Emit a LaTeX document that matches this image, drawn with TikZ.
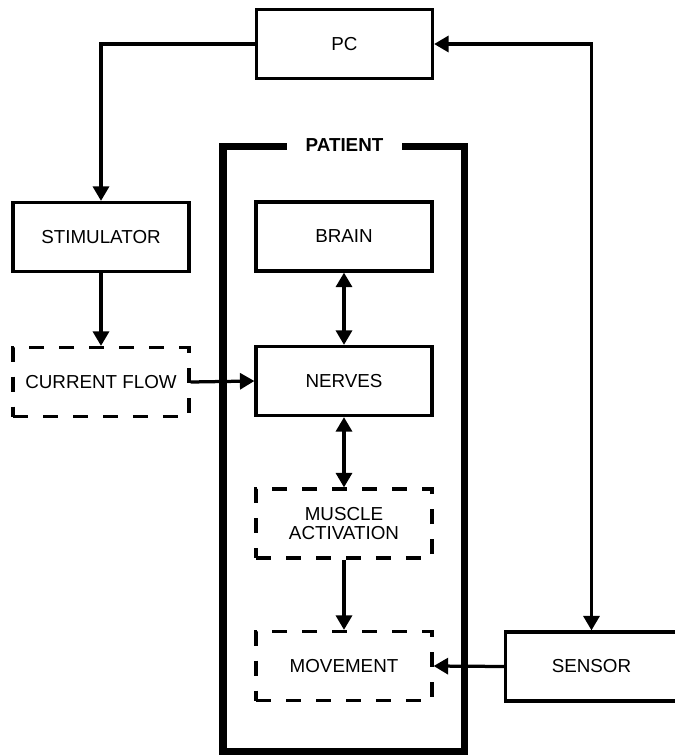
\documentclass[tikz,border=0pt]{standalone}
\usepackage{fontspec}
\setmainfont{Liberation Sans}
\usepackage{tikz}
\usetikzlibrary{arrows.meta}

\tikzset{
	box/.style={draw=black, line width=0.065cm, minimum width=3.52cm, minimum height=1.38cm, inner sep=0pt, align=center, font=\fontsize{10.7pt}{10.8pt}\selectfont},
	dashbox/.style={box, dash pattern=on 0.3cm off 0.3cm},
	link/.style={line width=0.065cm, -{Triangle[length=0.29cm, width=0.32cm]}},
	twolink/.style={line width=0.065cm, {Triangle[length=0.29cm, width=0.32cm]}-{Triangle[length=0.29cm, width=0.32cm]}}
}

\begin{document}
\begin{tikzpicture}[x=0.02cm, y=-0.02cm]
	\useasboundingbox (0, 0) rectangle (675, 755);
	% patient frame
	\draw[line width=0.155cm, miter limit=10] (223, 146.5) rectangle (464.5, 751.5);
	\node (patient) [fill=white, inner xsep=0.37cm, inner ysep=0.1cm, font=\fontsize{10.7pt}{12pt}\selectfont\bfseries] at (344.5, 145) {PATIENT};

	\node (pc) [box] at (344.5, 44) {PC};
	\node (stim) [box] at (101, 237) {STIMULATOR};
	\node (flow) [dashbox] at (101, 382) {CURRENT FLOW};
	\node (brain) [box] at (344, 236.5) {BRAIN};
	\node (nerves) [box] at (344, 381) {NERVES};
	\node (muscle) [dashbox] at (344, 523.5) {MUSCLE\\ACTIVATION};
	\node (move) [dashbox] at (344, 666) {MOVEMENT};
	\node (sensor) [box, minimum width=3.44cm] at (591.5, 666.5) {SENSOR};

	\draw[link] (pc.west) -| (stim.north);
	\draw[link] (stim.south) -- (flow.north);
	\draw[link] (flow.east) -- (nerves.west);
	\draw[twolink] (brain.south) -- (nerves.north);
	\draw[twolink] (nerves.south) -- (muscle.north);
	\draw[link] (muscle.south) -- (move.north);
	\draw[link] (sensor.west) -- (move.east);
	\draw[twolink] (pc.east) -| (sensor.north);

\end{tikzpicture}
\end{document}
